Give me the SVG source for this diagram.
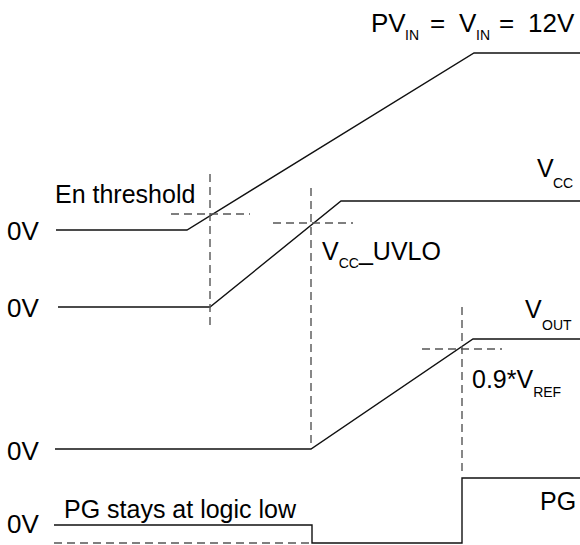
<svg xmlns="http://www.w3.org/2000/svg" width="580" height="545" viewBox="0 0 580 545">
<style>
.sig{fill:none;stroke:#111;stroke-width:1.4}
.dash{fill:none;stroke:#555;stroke-width:1.4;stroke-dasharray:8,5}
.t{font-family:"Liberation Sans",Arial,sans-serif;font-size:25px;fill:#000}
.big{font-size:26px}
.z{font-size:26px}
.s{font-size:14px}
</style>
<rect width="580" height="545" fill="#fff"/>
<g id="connectors">
<polyline class="sig" points="56,230 187,230 474,53 580,53"/>
<polyline class="sig" points="58,307 210,307 341,201 580,201"/>
<polyline class="sig" points="55,449 311,449 473,339 580,339"/>
<polyline class="sig" points="54,525 312,525 312,543 462,543 462,478 580,478"/>
<line class="dash" x1="54" y1="543" x2="312" y2="543"/>
<line class="dash" x1="210" y1="174" x2="210" y2="325"/>
<line class="dash" x1="171" y1="214" x2="250" y2="214"/>
<line class="dash" x1="311" y1="188" x2="311" y2="447"/>
<line class="dash" x1="273" y1="223" x2="353" y2="223"/>
<line class="dash" x1="462" y1="307" x2="462" y2="473"/>
<line class="dash" x1="422" y1="349" x2="502" y2="349"/>
</g>
<g id="pvin-label"><text class="t big" x="371" y="32">PV<tspan class="s" x="405" dy="8">IN</tspan><tspan x="430" dy="-8">=</tspan><tspan x="459">V</tspan><tspan class="s" x="476" dy="8">IN</tspan><tspan x="499" dy="-8">=</tspan><tspan x="528">12V</tspan></text></g>
<g id="vcc-label"><text class="t" x="537" y="177">V<tspan class="s" x="553" dy="11">CC</tspan></text></g>
<g id="en-label"><text class="t" x="55" y="203">En threshold</text></g>
<g id="uvlo-label"><text class="t" x="322" y="260">V<tspan class="s" dy="8">CC</tspan><tspan dy="-8">_UVLO</tspan></text></g>
<g id="vout-label"><text class="t" x="525" y="318">V<tspan class="s" x="542" dy="12">OUT</tspan></text></g>
<g id="vref-label"><text class="t" x="472" y="388">0.9*V<tspan class="s" dy="9">REF</tspan></text></g>
<g id="pg-label"><text class="t" x="540" y="510">PG</text></g>
<g id="pg-low-label"><text class="t" x="64" y="518">PG stays at logic low</text></g>
<g id="zero-labels">
<text class="t z" x="7" y="240">0V</text>
<text class="t z" x="7" y="317">0V</text>
<text class="t z" x="7" y="460">0V</text>
<text class="t z" x="7" y="533">0V</text>
</g>
</svg>
